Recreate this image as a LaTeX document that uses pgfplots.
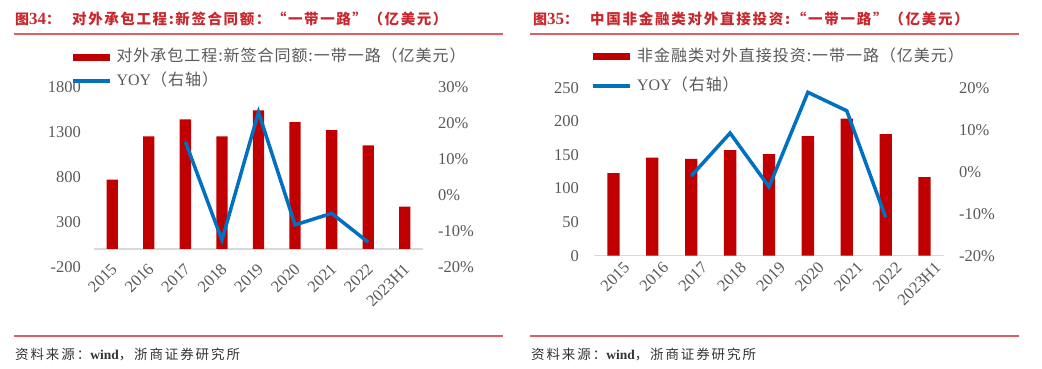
\documentclass[border=0pt]{standalone}
\usepackage{pgfplots}
\pgfplotsset{compat=1.18}
\usepackage{pgfplotstable}
\usepackage{fontspec}
\setmainfont{Liberation Serif}
\newfontfamily\cjk{Noto Sans CJK SC}
\newfontfamily\cjkleg[LetterSpace=6]{Noto Sans CJK SC}
\definecolor{barred}{RGB}{192,0,0}
\definecolor{lineblue}{RGB}{0,112,192}
\definecolor{ticktext}{RGB}{89,89,89}
\definecolor{basegray}{RGB}{217,217,217}
\definecolor{titlered}{RGB}{200,40,45}
\definecolor{rulered}{RGB}{222,95,95}

\pgfplotstableread{
x val
0 770
1 1250
2 1440
3 1250
4 1540
5 1410
6 1320
7 1150
8 470
}\leftbars
\pgfplotstableread{
x yoy
2 14.8
3 -12.5
4 23.0
5 -8.3
6 -5.1
7 -13.1
}\leftyoy
\pgfplotstableread{
x val
0 123
1 146
2 144
3 157
4 151
5 178
6 204
7 181
8 117
}\rightbars
\pgfplotstableread{
x yoy
2 -1.0
3 9.2
4 -3.6
5 18.9
6 14.5
7 -10.9
}\rightyoy

\pgfplotsset{
  base/.style={scale only axis, xmin=-0.5, xmax=8.5,
    axis line style={draw=none}, major tick length=0pt, tick style={draw=none},
    ticklabel style={font=\fontsize{16.5}{18}\selectfont, text=ticktext},
    clip=false},
  barleg/.style={legend image code/.code={\fill[##1] (0pt,-3.5pt) rectangle (37pt,3.5pt);}},
  lineleg/.style={legend image code/.code={\draw[##1] (0pt,0pt) -- (37pt,0pt);}},
}

\begin{document}
\begin{tikzpicture}
\path[use as bounding box] (0,0) rectangle (1042pt,369pt);

% ---------- titles and rules ----------
\node[anchor=west, inner sep=0pt, text=titlered] at (15pt,350pt)
  {{\cjk\bfseries\fontsize{14}{16}\selectfont 图}{\bfseries\fontsize{17}{18}\selectfont 34}{\cjk\bfseries\fontsize{14}{16}\selectfont ：}};
\node[anchor=west, inner sep=0pt, text=titlered] at (72pt,350pt)
  {\cjk\addfontfeatures{LetterSpace=11}\bfseries\fontsize{14.5}{16}\selectfont 对外承包工程:新签合同额：“一带一路”（亿美元）};
\node[anchor=west, inner sep=0pt, text=titlered] at (533pt,350pt)
  {{\cjk\bfseries\fontsize{14}{16}\selectfont 图}{\bfseries\fontsize{17}{18}\selectfont 35}{\cjk\bfseries\fontsize{14}{16}\selectfont ：}};
\node[anchor=west, inner sep=0pt, text=titlered] at (590pt,350pt)
  {\cjk\addfontfeatures{LetterSpace=12}\bfseries\fontsize{14.5}{16}\selectfont 中国非金融类对外直接投资:“一带一路”（亿美元）};
\draw[rulered, line width=1.5pt] (14pt,335pt) -- (503pt,335pt);
\draw[rulered, line width=1.5pt] (530pt,335pt) -- (1019pt,335pt);
\draw[rulered, line width=1.5pt] (14pt,33pt) -- (503pt,33pt);
\draw[rulered, line width=1.5pt] (530pt,33pt) -- (1019pt,33pt);
\node[anchor=west, inner sep=0pt, text=black!80] at (15pt,14pt)
  {\cjk\addfontfeatures{LetterSpace=14}\fontsize{13.5}{15}\selectfont 资料来源：{\rmfamily\bfseries wind}，浙商证券研究所};
\node[anchor=west, inner sep=0pt, text=black!80] at (531pt,14pt)
  {\cjk\addfontfeatures{LetterSpace=14}\fontsize{13.5}{15}\selectfont 资料来源：{\rmfamily\bfseries wind}，浙商证券研究所};

% ---------- left panel ----------
\begin{axis}[base, at={(94pt,102pt)}, anchor=south west, width=329pt, height=180pt,
  ymin=-200, ymax=1800, ytick={-200,300,800,1300,1800},
  yticklabels={-200,300,800,1300,1800},
  yticklabel style={anchor=east, inner sep=0pt, xshift=-13pt},
  xtick={0,...,8}, xticklabels={2015,2016,2017,2018,2019,2020,2021,2022,2023H1},
  xticklabel style={rotate=45, anchor=east, inner sep=0pt, xshift=2pt, yshift=-1pt},
  legend cell align=left,
  legend style={at={(-0.0699,1.2083)}, anchor=north west, draw=none, fill=none,
    inner sep=0pt, outer sep=0pt, row sep=9pt, column sep=5pt,
    font=\cjkleg\fontsize{16}{18}\selectfont, text=ticktext,
    nodes={inner sep=0pt, text height=12pt, text depth=3pt}},
]
\draw[basegray, line width=1.5pt] (axis cs:-0.5,0) -- (axis cs:8.5,0);
\addplot[ybar, bar width=11.3pt, fill=barred, draw=none, barleg] table[x=x,y=val]{\leftbars};
\addlegendentry{对外承包工程:新签合同额:一带一路（亿美元）}
\addlegendimage{lineleg, lineblue, line width=3.5pt}
\addlegendentry{{\rmfamily YOY}（右轴）}
\end{axis}
\begin{axis}[base, at={(94pt,102pt)}, anchor=south west, width=329pt, height=180pt,
  ymin=-20, ymax=30, ytick={-20,-10,0,10,20,30},
  yticklabels={-20\%,-10\%,0\%,10\%,20\%,30\%}, yticklabel pos=right,
  yticklabel style={anchor=west, inner sep=0pt, xshift=15pt},
  xtick=\empty]
\addplot[lineblue, line width=3.5pt] table[x=x,y=yoy]{\leftyoy};
\end{axis}

% ---------- right panel ----------
\begin{axis}[base, at={(594pt,113.3pt)}, anchor=south west, width=350pt, height=168pt,
  ymin=0, ymax=250, ytick={0,50,100,150,200,250},
  yticklabels={0,50,100,150,200,250},
  yticklabel style={anchor=east, inner sep=0pt, xshift=-15pt},
  xtick={0,...,8}, xticklabels={2015,2016,2017,2018,2019,2020,2021,2022,2023H1},
  xticklabel style={rotate=45, anchor=east, inner sep=0pt, xshift=3pt, yshift=-16pt},
  legend cell align=left,
  legend style={at={(-0.0066,1.2274)}, anchor=north west, draw=none, fill=none,
    inner sep=0pt, outer sep=0pt, row sep=14pt, column sep=5pt,
    font=\cjkleg\fontsize{16}{18}\selectfont, text=ticktext,
    nodes={inner sep=0pt, text height=12pt, text depth=3pt}},
]
\draw[basegray, line width=1.5pt] (axis cs:-0.5,0) -- (axis cs:8.5,0);
\addplot[ybar, bar width=12.3pt, fill=barred, draw=none, barleg] table[x=x,y=val]{\rightbars};
\addlegendentry{非金融类对外直接投资:一带一路（亿美元）}
\addlegendimage{lineleg, lineblue, line width=3.5pt}
\addlegendentry{{\rmfamily YOY}（右轴）}
\end{axis}
\begin{axis}[base, at={(594pt,113.3pt)}, anchor=south west, width=350pt, height=168pt,
  ymin=-20, ymax=20, ytick={-20,-10,0,10,20},
  yticklabels={-20\%,-10\%,0\%,10\%,20\%}, yticklabel pos=right,
  yticklabel style={anchor=west, inner sep=0pt, xshift=15pt},
  xtick=\empty]
\addplot[lineblue, line width=3.5pt] table[x=x,y=yoy]{\rightyoy};
\end{axis}
\end{tikzpicture}
\end{document}
